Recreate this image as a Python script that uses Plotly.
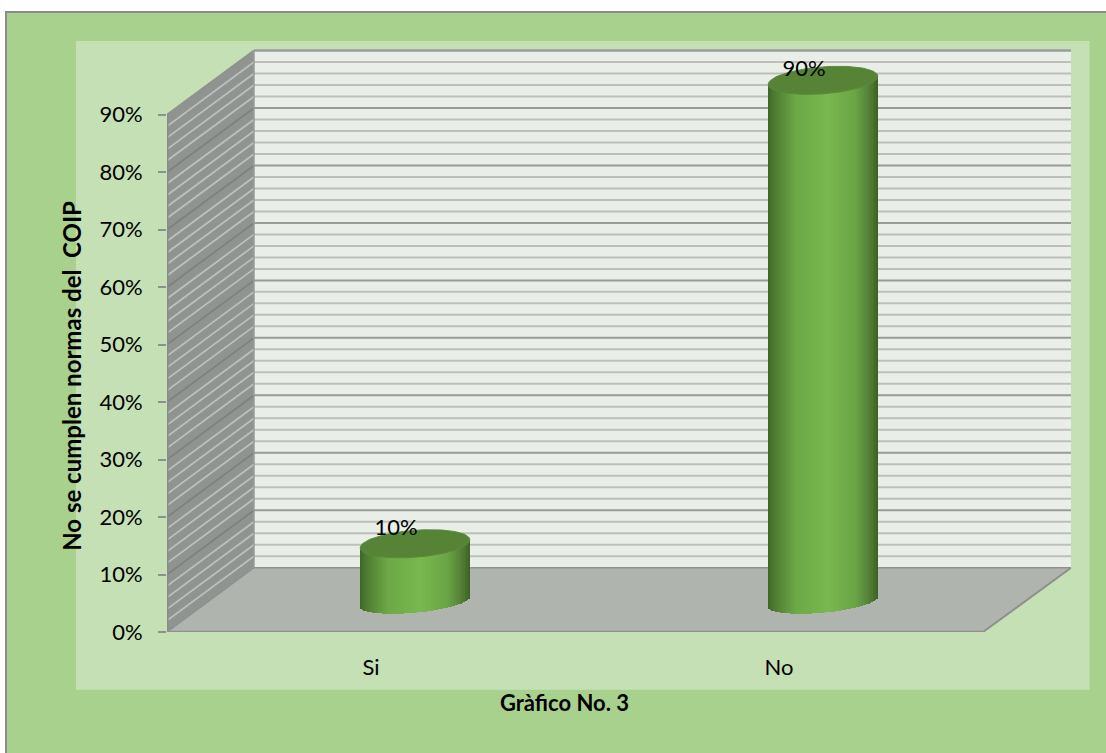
import math
import plotly.graph_objects as go

categories = ["Si", "No"]
values = [10, 90]
value_labels = ["10%", "90%"]
y_ticks = [0, 10, 20, 30, 40, 50, 60, 70, 80, 90]
y_tick_labels = ["0%", "10%", "20%", "30%", "40%", "50%", "60%", "70%", "80%", "90%"]
y_title = "No se cumplen normas del  COIP"
x_title = "Gràfico No. 3"

W, H = 1106, 753
L, R, T, B = 167.0, 1071.0, 47.0, 632.3      # plot area in pixels
PX_PER_UNIT_Y = 5.75
PX_PER_CAT = 408.0
DEPTH_X = 87.0 / PX_PER_CAT
DEPTH_Y = (B - 568.0) / PX_PER_UNIT_Y
X0, X1 = -0.5, 1.5
X_MAX = X1 + 88.0 / PX_PER_CAT
Y_MAX = (B - T) / PX_PER_UNIT_Y
FONT = "Lato"
LABEL_LIFT = [2.45, 1.75]


def px(v):
    return (v - L) / (R - L)


def py(v):
    return (B - v) / (B - T)


def paper_rect(x0, y0, x1, y1, fill, line=None, lw=0):
    return dict(type="rect", xref="paper", yref="paper", layer="below",
                x0=px(x0), x1=px(x1), y0=py(y0), y1=py(y1), fillcolor=fill,
                line=dict(color=line or fill, width=lw))


def poly(points, fill):
    path = "M " + " L ".join(f"{a:.4f},{b:.3f}" for a, b in points) + " Z"
    return dict(type="path", xref="x", yref="y", layer="below", path=path,
                fillcolor=fill, line=dict(width=0))


def seg(x0, y0, x1, y1, color, width):
    return dict(type="line", xref="x", yref="y", layer="below", x0=x0, y0=y0,
                x1=x1, y1=y1, line=dict(color=color, width=width))


BACK_L = X0 + DEPTH_X
shapes = [
    paper_rect(6, 12, 1112, 760, "#A9D18E", "#8C8C8C", 2),
    paper_rect(76, 41, 1089.5, 690, "#C5E0B4"),
    poly([(BACK_L, DEPTH_Y), (X_MAX, DEPTH_Y), (X_MAX, 90 + DEPTH_Y), (BACK_L, 90 + DEPTH_Y)], "#E9EFE8"),
    poly([(X0, 0), (BACK_L, DEPTH_Y), (BACK_L, 90 + DEPTH_Y), (X0, 90)], "#8F9490"),
    poly([(X0, 0), (X1, 0), (X_MAX, DEPTH_Y), (BACK_L, DEPTH_Y)], "#B0B4AE"),
]
for v in range(2, 90, 2):
    major = v % 10 == 0
    shapes.append(seg(BACK_L, v + DEPTH_Y, X_MAX, v + DEPTH_Y,
                      "#979A98" if major else "#BDBFBB", 2))
    shapes.append(seg(X0, v, BACK_L, v + DEPTH_Y,
                      "#7E827F" if major else "#BCC0BC", 1.8))
shapes += [
    seg(BACK_L, 90 + DEPTH_Y, X_MAX, 90 + DEPTH_Y, "#999C9A", 2.5),
    seg(BACK_L, DEPTH_Y, X_MAX, DEPTH_Y, "#8F928F", 1.5),
    seg(X0, 90, BACK_L, 90 + DEPTH_Y, "#8F928F", 2),
    seg(X0, 0, X0, 90, "#8A8C8A", 3),
    seg(X0, 0, X1, 0, "#8F8F8F", 2.5),
    seg(X1, 0, X_MAX, DEPTH_Y, "#8F8F8F", 2),
    seg(X0, 0, BACK_L, DEPTH_Y, "#8F928F", 1.5),
    seg(BACK_L, DEPTH_Y, BACK_L, 90 + DEPTH_Y, "#9A9D9A", 1.5),
]

# cylinder geometry
BAR_HALF = 54.8 / PX_PER_CAT
BAR_SHIFT = 44.0 / PX_PER_CAT
BASE = (B - 602.0) / PX_PER_UNIT_Y
BAR_SCALE = 1.008
TOP_RY, TOP_TILT = 13.5 / PX_PER_UNIT_Y, 4.0 / PX_PER_UNIT_Y
BOT_RY, BOT_TILT = 11.0 / PX_PER_UNIT_Y, 5.0 / PX_PER_UNIT_Y
N = 66
SHADE = [(0.0, (62, 102, 38)), (0.06, (78, 124, 50)), (0.25, (108, 168, 70)),
         (0.55, (120, 184, 79)), (0.8, (106, 164, 68)), (0.94, (80, 122, 52)),
         (1.0, (60, 98, 36))]


def shade(t):
    for (a, ca), (b, cb) in zip(SHADE, SHADE[1:]):
        if t <= b:
            f = (t - a) / (b - a)
            return "rgb(%d,%d,%d)" % tuple(round(p + (q - p) * f) for p, q in zip(ca, cb))
    return "rgb(60,98,36)"


fig = go.Figure()
for i, v in enumerate(values):
    cx = i + BAR_SHIFT
    top = BASE + v * BAR_SCALE
    xs, bases, heights, colors = [], [], [], []
    for k in range(N):
        t = (k + 0.5) / N
        u = 2 * t - 1
        xs.append(cx + u * BAR_HALF)
        low = BASE + BOT_TILT * u - BOT_RY * math.sqrt(max(0, 1 - u * u))
        bases.append(low)
        heights.append((top + TOP_TILT * u) - low)
        colors.append(shade(t))
    fig.add_trace(go.Bar(x=xs, y=heights, base=bases, width=2 * BAR_HALF / N * 1.25,
                         marker=dict(color=colors, line=dict(width=0)),
                         showlegend=False, hoverinfo="skip"))
    angles = [2 * math.pi * a / 120 for a in range(121)]
    fig.add_trace(go.Scatter(
        x=[cx + BAR_HALF * math.cos(a) for a in angles],
        y=[top + TOP_TILT * math.cos(a) + TOP_RY * math.sin(a) for a in angles],
        mode="lines", fill="toself", fillcolor="#568335",
        line=dict(color="#5C8A3A", width=1), showlegend=False, hoverinfo="skip"))

fig.add_trace(go.Scatter(
    x=[i + BAR_SHIFT - 19.0 / PX_PER_CAT for i in range(len(values))],
    y=[BASE + v * BAR_SCALE + lift for v, lift in zip(values, LABEL_LIFT)],
    mode="text", text=value_labels, textposition="middle center",
    textfont=dict(family=FONT, size=22, color="#000000"),
    showlegend=False, hoverinfo="skip"))

fig.update_layout(
    width=W, height=H, autosize=False,
    margin=dict(l=L, r=W - R, t=T, b=H - B, pad=0),
    paper_bgcolor="#FFFFFF", plot_bgcolor="rgba(0,0,0,0)",
    barmode="overlay", bargap=0, showlegend=False,
    shapes=shapes,
    xaxis=dict(range=[X0, X_MAX], tickmode="array",
               tickvals=list(range(len(categories))), ticktext=categories,
               showgrid=False, zeroline=False, showline=False, ticks="",
               ticklabelstandoff=20,
               tickfont=dict(family=FONT, size=22, color="#000000")),
    yaxis=dict(range=[0, Y_MAX], tickmode="array", tickvals=y_ticks,
               ticktext=y_tick_labels, showgrid=False, zeroline=False,
               showline=False, ticks="outside", ticklen=8, tickwidth=1.5,
               tickcolor="#8F8F8F", ticklabelstandoff=11,
               tickfont=dict(family=FONT, size=22, color="#000000")),
    annotations=[
        dict(xref="paper", yref="paper", x=px(72), y=py(376), text=f"<b>{y_title}</b>",
             textangle=-90, showarrow=False, xanchor="center", yanchor="middle",
             font=dict(family=FONT, size=24, color="#000000")),
        dict(xref="paper", yref="paper", x=px(564), y=py(703), text=f"<b>{x_title}</b>",
             showarrow=False, xanchor="center", yanchor="middle",
             font=dict(family=FONT, size=22, color="#000000")),
    ],
)

fig.write_html("out.html", config=dict(displayModeBar=False),
               post_script="document.body.style.margin='0';document.body.style.overflow='hidden';")
